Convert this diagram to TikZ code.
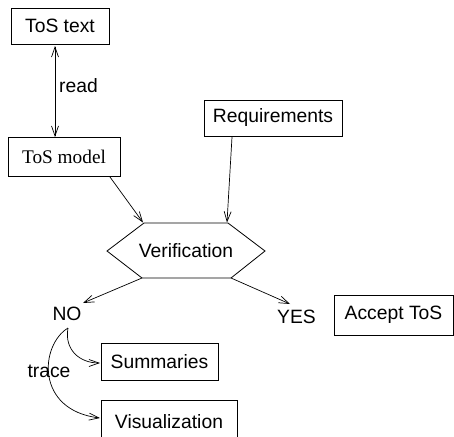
\documentclass[tikz,border=0pt]{standalone}
\usepackage{fontspec}
\setmainfont{Liberation Sans}
\newfontfamily\timesfont{Liberation Serif}
\usetikzlibrary{arrows.meta}
\begin{document}
\begin{tikzpicture}[x=1pt,y=-1pt,
  box/.style={draw,line width=0.8pt,inner sep=0pt,font=\fontsize{19.3}{22}\selectfont},
  lbl/.style={inner sep=0pt,font=\fontsize{19.3}{22}\selectfont},
  arr/.style={line width=0.7pt,-{Straight Barb[length=10pt,width=7pt]}},
  darr/.style={line width=0.7pt,{Straight Barb[length=10pt,width=7pt]}-{Straight Barb[length=10pt,width=7pt]}}]
\clip (0,0) rectangle (454,436);
\fill[white] (0,0) rectangle (454,436);
% boxes
\node[box,minimum width=98pt,minimum height=36pt] (text) at (60,26) {ToS text};
\node[box,minimum width=112pt,minimum height=39pt,font=\fontsize{19.3}{22}\timesfont] (model) at (64,156.5) {ToS model};
\node[box,minimum width=138pt,minimum height=36pt] (req) at (273,118) {Requirements};
\node[box,minimum width=119pt,minimum height=40pt] (accept) at (393.5,315) {Accept ToS};
\node[box,minimum width=117pt,minimum height=37pt] (sum) at (159.5,362) {Summaries};
\node[box,minimum width=136pt,minimum height=44pt] (vis) at (169,422) {Visualization};
% verification hexagon
\node[lbl] (ver) at (186,251) {Verification};
\draw[line width=0.8pt] (144,223) coordinate (vtl) -- (228,223) coordinate (vtr) -- (265,251) coordinate (vr)
  -- (231,278) coordinate (vbr) -- (142,278) coordinate (vbl) -- (107,251) coordinate (vl) -- cycle;
% labels
\node[lbl] (read) at (78.5,86) {read};
\node[lbl] (no) at (67,314) {NO};
\node[lbl] (yes) at (296.5,317) {YES};
\node[lbl] (trace) at (49,371) {trace};
% arrow end coordinates
\coordinate (rt) at (55,46);
\coordinate (rb) at (55,137);
\coordinate (ms) at (110,177);
\coordinate (me) at (143,222.5);
\coordinate (qs) at (232,137);
\coordinate (qe) at (227,222.5);
\coordinate (noend) at (83,303);
\coordinate (yesend) at (290,304);
\coordinate (nob) at (68,328);
\coordinate (sumin) at (100,363);
\coordinate (visin) at (100,418);
% connectors
\draw[darr] (rt) -- (rb);
\draw[arr] (ms) -- (me);
\draw[arr] (qs) -- (qe);
\draw[arr] (vbl) -- (noend);
\draw[arr] (vbr) -- (yesend);
\draw[arr] (nob) .. controls (64,350) and (80,363) .. (sumin);
\draw[arr] (nob) .. controls (40,345) and (35,410) .. (visin);
\end{tikzpicture}
\end{document}
